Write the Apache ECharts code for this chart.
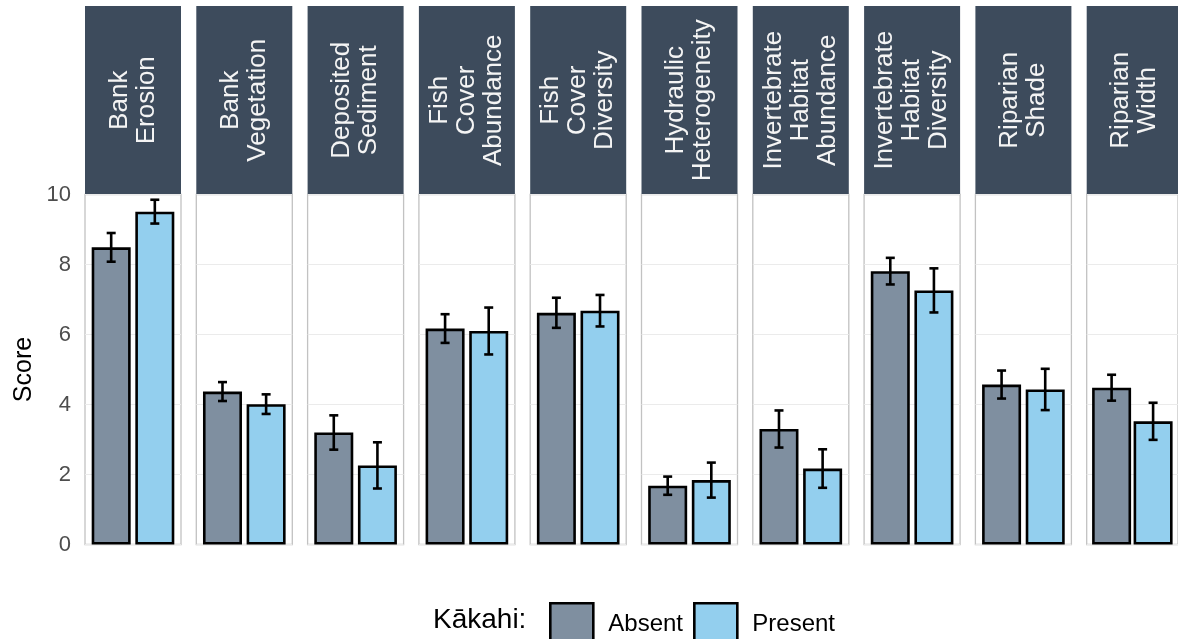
<!DOCTYPE html>
<html>
<head>
<meta charset="utf-8">
<title>Habitat scores by Kākahi presence</title>
<script src="https://cdn.jsdelivr.net/npm/echarts@6/dist/echarts.min.js"></script>
<style>
  html, body { margin: 0; padding: 0; background: #ffffff; }
  #chart { width: 1178px; height: 639px; }
</style>
</head>
<body>
<div id="chart"></div>
<script>
// Habitat attributes (one facet each)
const categories = [
  'Bank Erosion', 'Bank Vegetation', 'Deposited Sediment', 'Fish Cover Abundance',
  'Fish Cover Diversity', 'Hydraulic Heterogeneity', 'Invertebrate Habitat Abundance',
  'Invertebrate Habitat Diversity', 'Riparian Shade', 'Riparian Width'
];
const groups = ['Absent', 'Present'];

// Mean score and standard error per attribute
const absentMean  = [8.49, 4.37, 3.20, 6.17, 6.62, 1.68, 3.30, 7.81, 4.57, 4.48];
const absentSE    = [0.41, 0.27, 0.49, 0.41, 0.43, 0.26, 0.53, 0.38, 0.40, 0.37];
const presentMean = [9.51, 4.01, 2.26, 6.10, 6.68, 1.84, 2.17, 7.26, 4.43, 3.52];
const presentSE   = [0.34, 0.28, 0.66, 0.67, 0.45, 0.50, 0.55, 0.63, 0.59, 0.53];

const yTicks = [0, 2, 4, 6, 8, 10];

const colors = { Absent: '#7f8fa0', Present: '#93cfee' };
const stripColor = '#3d4b5c';
const font = 'Liberation Sans, Arial, sans-serif';

// Facet geometry
const panelLeft0 = 85, panelPitch = 111.3, panelWidth = 96;
const panelTop = 194.5, panelHeight = 350;
const stripTop = 6;

const chart = echarts.init(document.getElementById('chart'), null, { renderer: 'canvas' });

const grids = [], xAxes = [], yAxes = [], series = [], graphics = [];

categories.forEach((cat, i) => {
  const left = panelLeft0 + panelPitch * i;
  grids.push({
    left: left, top: panelTop, width: panelWidth, height: panelHeight,
    show: true, borderColor: '#c2c2c2', borderWidth: 1.3, backgroundColor: 'transparent'
  });
  xAxes.push({
    gridIndex: i, type: 'value', min: 0.4, max: 2.6, show: false
  });
  yAxes.push({
    gridIndex: i, type: 'value', min: yTicks[0], max: yTicks[yTicks.length - 1], interval: 2,
    axisLine: { show: false }, axisTick: { show: false },
    axisLabel: {
      show: i === 0, color: '#4d4d4d', fontSize: 22, fontFamily: font, margin: 14
    },
    splitLine: { show: true, lineStyle: { color: '#ebebeb', width: 1 } },
    name: i === 0 ? 'Score' : '',
    nameLocation: 'middle', nameRotate: 90, nameGap: 48,
    nameTextStyle: { color: '#000', fontSize: 25, fontFamily: font }
  });

  const means = [absentMean[i], presentMean[i]];
  const ses = [absentSE[i], presentSE[i]];

  groups.forEach((g, k) => {
    series.push({
      name: g, type: 'bar', xAxisIndex: i, yAxisIndex: i,
      stack: 'facet' + i, barWidth: 39,
      itemStyle: { color: colors[g], borderColor: '#000', borderWidth: 2.6 },
      data: [[k + 1, means[k]]],
      animation: false, silent: true
    });
  });

  series.push({
    type: 'custom', xAxisIndex: i, yAxisIndex: i,
    data: means.map((m, k) => [k + 1, m - ses[k], m + ses[k]]),
    encode: { x: 0, y: [1, 2] },
    renderItem: (params, api) => {
      const x = api.value(0);
      const top = api.coord([x, api.value(2)]);
      const bot = api.coord([x, api.value(1)]);
      const half = 4.5;
      const st = { stroke: '#000', lineWidth: 2.6 };
      return {
        type: 'group',
        children: [
          { type: 'line', shape: { x1: top[0], y1: top[1], x2: bot[0], y2: bot[1] }, style: st },
          { type: 'line', shape: { x1: top[0] - half, y1: top[1], x2: top[0] + half, y2: top[1] }, style: st },
          { type: 'line', shape: { x1: bot[0] - half, y1: bot[1], x2: bot[0] + half, y2: bot[1] }, style: st }
        ]
      };
    },
    z: 5, animation: false, silent: true
  });

  // Facet strip with its title
  graphics.push({
    type: 'rect', silent: true,
    shape: { x: left, y: stripTop, width: panelWidth, height: panelTop - stripTop },
    style: { fill: stripColor }
  });
  graphics.push({
    type: 'text', silent: true,
    x: left + panelWidth / 2, y: (stripTop + panelTop) / 2,
    rotation: Math.PI / 2,
    style: {
      text: cat.replace(/ /g, '\n'),
      align: 'center', verticalAlign: 'middle',
      fontSize: 26, fontFamily: font, lineHeight: 27, fill: '#f4f4f4'
    }
  });
});

// Legend title
graphics.push({
  type: 'text', silent: true, x: 433, y: 620,
  style: { text: 'Kākahi:', verticalAlign: 'middle', fontSize: 28, fontFamily: font, fill: '#000' }
});

chart.setOption({
  animation: false,
  backgroundColor: '#ffffff',
  grid: grids,
  xAxis: xAxes,
  yAxis: yAxes,
  legend: {
    data: groups, left: 544, top: 597, orient: 'horizontal',
    itemWidth: 43, itemHeight: 42, itemGap: 10, icon: 'rect',
    itemStyle: { borderColor: '#000', borderWidth: 2.6 },
    textStyle: { color: '#000', fontSize: 24, fontFamily: font, padding: [0, 0, 0, 10] },
    selectedMode: false
  },
  series: series,
  graphic: graphics
});
</script>
</body>
</html>
